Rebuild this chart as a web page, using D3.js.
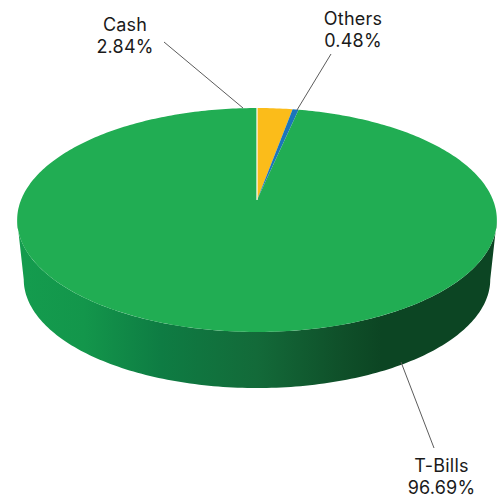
<!DOCTYPE html>
<html>
<head>
<meta charset="utf-8">
<script src="https://cdn.jsdelivr.net/npm/d3@7/dist/d3.min.js"></script>
<style>
html, body { margin: 0; padding: 0; background: #fff; overflow: hidden; }
svg { display: block; }
text { font-family: "Inter", "Open Sans", sans-serif; font-size: 18px; letter-spacing: 0.2px; fill: #1a1a1a; }
</style>
</head>
<body>
<svg id="chart" width="504" height="497"></svg>
<script>
// Portfolio allocation, drawn clockwise from twelve o'clock.
const categories = ["Cash", "Others", "T-Bills"];
const shares = [2.84, 0.48, 96.69];
const sliceColors = ["#fbbc1a", "#1b75bb", "#21ad53"];

// Callouts: label centre, first-line baseline, and the leader ends.
const calloutLabelX = [125, 353, 441.5];
const calloutLabelY = [31, 25, 472];
const leaderFrom = [[164, 42], [331, 54], [434, 448]];
const leaderTo = [[243, 108], [297, 110], [401, 362]];

// Side wall shading, left to right.
const wallOffsets = [0, 0.14, 0.3, 0.5, 0.68, 0.76, 1];
const wallColors = ["#149c4e", "#13964b", "#0e7c43", "#136a39", "#0f4f29", "#0c4523", "#0c4523"];

const svg = d3.select("#chart");

// Tilted disc: a unit circle seen in perspective, so the centre sits above the
// middle of the outline and the far rim is foreshortened.
const tilt = 40 / 224;
const topDisc = { cx: 257, cy: 200, fx: 236, fy: 108.4 };
const baseDisc = { cx: 257, cy: 260, fx: 229.5, fy: 105.2 };

function project(disc, angle, r = 1) {
  const u = r * Math.sin(angle);
  const v = r * Math.cos(angle);
  const w = 1 + tilt * v;
  return [disc.cx + disc.fx * u / w, disc.cy - disc.fy * v / w];
}

const pie = d3.pie().sort(null).value(d => d).startAngle(0).endAngle(2 * Math.PI);
const slices = pie(shares);
const line = d3.line();

function rim(disc, a0, a1) {
  const steps = Math.max(2, Math.ceil((a1 - a0) / (Math.PI / 180)));
  return d3.range(steps + 1).map(i => project(disc, a0 + (a1 - a0) * i / steps));
}

const defs = svg.append("defs");
const wallGradient = defs.append("linearGradient").attr("id", "wall")
  .attr("gradientUnits", "userSpaceOnUse")
  .attr("x1", 17).attr("x2", 497).attr("y1", 0).attr("y2", 0);
wallGradient.selectAll("stop").data(wallOffsets).join("stop")
  .attr("offset", d => d)
  .attr("stop-color", (d, i) => wallColors[i]);

// Side wall: the rim between its two widest points, extruded down to the base outline.
const widest = Math.acos(-tilt);
const nearTop = rim(topDisc, widest, 2 * Math.PI - widest);
const nearBase = rim(baseDisc, widest, 2 * Math.PI - widest).reverse();
svg.append("path")
  .attr("d", line(nearTop.concat(nearBase)) + "Z")
  .attr("fill", "url(#wall)");

// Top face, one wedge per category.
svg.append("g").selectAll("path").data(slices).join("path")
  .attr("d", d => line([[topDisc.cx, topDisc.cy], ...rim(topDisc, d.startAngle, d.endAngle)]) + "Z")
  .attr("fill", (d, i) => sliceColors[i]);

// Thin white seam where the first wedge begins.
const seam = project(topDisc, 0);
svg.append("line")
  .attr("x1", topDisc.cx).attr("y1", topDisc.cy)
  .attr("x2", seam[0]).attr("y2", seam[1])
  .attr("stroke", "#fff").attr("stroke-width", 1.2);

// Leader lines.
svg.append("g").selectAll("line").data(categories).join("line")
  .attr("x1", (d, i) => leaderFrom[i][0]).attr("y1", (d, i) => leaderFrom[i][1])
  .attr("x2", (d, i) => leaderTo[i][0]).attr("y2", (d, i) => leaderTo[i][1])
  .attr("stroke", "#5c5c5c").attr("stroke-width", 1);

// Two-line labels: name above, percentage below.
const labels = svg.append("g").selectAll("text").data(categories).join("text")
  .attr("text-anchor", "middle")
  .attr("x", (d, i) => calloutLabelX[i])
  .attr("y", (d, i) => calloutLabelY[i]);
labels.append("tspan").attr("x", (d, i) => calloutLabelX[i]).text(d => d);
labels.append("tspan").attr("x", (d, i) => calloutLabelX[i]).attr("dy", 22)
  .text((d, i) => shares[i].toFixed(2) + "%");
</script>
</body>
</html>
